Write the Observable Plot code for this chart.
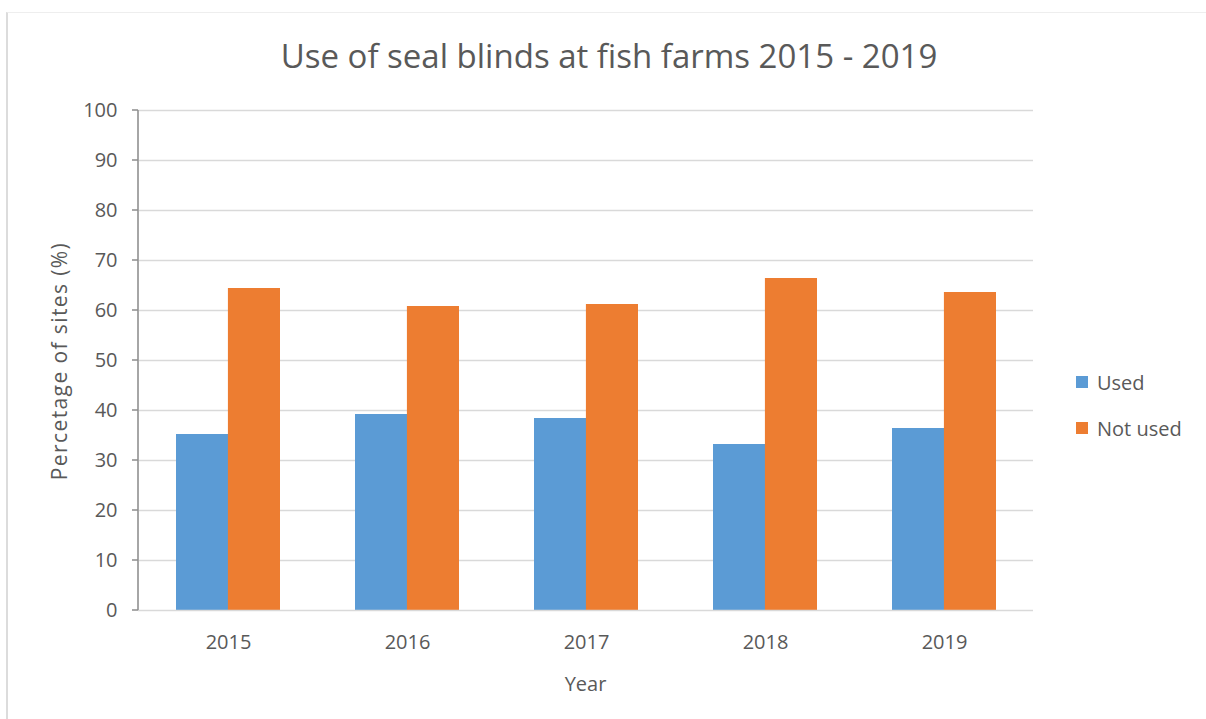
<!DOCTYPE html>
<html>
<head>
<meta charset="utf-8">
<script src="https://cdn.jsdelivr.net/npm/d3@7"></script>
<script src="https://cdn.jsdelivr.net/npm/@observablehq/plot@0.6"></script>
<style>
  html, body { margin: 0; padding: 0; background: #fff; }
  #wrap { position: relative; width: 1206px; height: 719px; overflow: hidden; font-family: "Open Sans", sans-serif; color: #595959; }
  #border { position: absolute; left: 6px; top: 12px; width: 1300px; height: 800px; border-top: 1px solid #eeeeee; border-left: 2px solid #dcdcdc; }
  #title { position: absolute; left: 0; width: 1218px; top: 34px; text-align: center; font-size: 33px; color: #595959; line-height: 44px; }
  #legend { position: absolute; left: 1076px; top: 359px; font-size: 20px; color: #595959; }
  .item { display: flex; align-items: center; height: 46px; }
  .sw { width: 12px; height: 12px; margin-right: 9px; }
  #chart { position: absolute; left: 0; top: 0; }
</style>
</head>
<body>
<div id="wrap">
  <div id="border"></div>
  <div id="chart"></div>
  <div id="title">Use of seal blinds at fish farms 2015 - 2019</div>
  <div id="legend"></div>
</div>
<script>
const years = ["2015", "2016", "2017", "2018", "2019"];
const series = ["Used", "Not used"];
const used = [35.2, 39.2, 38.4, 33.2, 36.4];
const notUsed = [64.4, 60.8, 61.2, 66.4, 63.6];
const colors = ["#5b9bd5", "#ed7d31"];
const yTicks = [0, 10, 20, 30, 40, 50, 60, 70, 80, 90, 100];

const W = 1206, H = 719;
const mL = 138, mR = 173, mT = 110, mB = 109;
const pInner = 0.42, pOuter = 0.21;
const step = (W - mL - mR) / (years.length - pInner + 2 * pOuter);
const half = step * (1 - pInner) / 2;
const font = "'Open Sans', sans-serif";

const usedData = years.map((y, i) => ({year: y, series: series[0], value: used[i]}));
const notData = years.map((y, i) => ({year: y, series: series[1], value: notUsed[i]}));

const chart = Plot.plot({
  width: W, height: H,
  marginLeft: mL, marginRight: mR, marginTop: mT, marginBottom: mB,
  style: {fontFamily: font, fontSize: "20px", color: "#595959", background: "transparent"},
  x: {type: "band", domain: years, paddingInner: pInner, paddingOuter: pOuter, label: null, tickSize: 0, tickPadding: 24},
  y: {domain: [0, 100], ticks: yTicks, label: null, tickSize: 0, tickPadding: 21},
  color: {domain: series, range: colors},
  marks: [
    Plot.ruleY(yTicks.slice(1), {stroke: "#d9d9d9", strokeWidth: 1.3}),
    Plot.barY(usedData, {x: "year", y: "value", fill: "series", insetRight: half, insetLeft: 0}),
    Plot.barY(notData, {x: "year", y: "value", fill: "series", insetLeft: half, insetRight: 0}),
    Plot.ruleY([0], {stroke: "#d9d9d9", strokeWidth: 1.5})
  ]
});
document.getElementById("chart").appendChild(chart);

// left axis line and tick marks, using the plot's own y scale
const ys = chart.scale("y");
const svg = d3.select(chart);
svg.append("line")
  .attr("x1", mL).attr("x2", mL)
  .attr("y1", ys.apply(0)).attr("y2", ys.apply(100))
  .attr("stroke", "#a6a6a6").attr("stroke-width", 2);
svg.append("g").selectAll("line").data(yTicks).join("line")
  .attr("x1", mL - 6).attr("x2", mL)
  .attr("y1", d => ys.apply(d)).attr("y2", d => ys.apply(d))
  .attr("stroke", "#8c8c8c").attr("stroke-width", 1.5);

// axis titles
svg.append("text").text("Year")
  .attr("x", mL + (W - mL - mR) / 2).attr("y", 691)
  .attr("text-anchor", "middle").attr("fill", "#595959")
  .style("font-size", "20px").style("font-family", font);
svg.append("text").text("Percetage of sites (%)")
  .attr("transform", `translate(67, ${ys.apply(49.8)}) rotate(-90)`)
  .attr("text-anchor", "middle").attr("fill", "#595959")
  .style("font-size", "21px").style("letter-spacing", "1.4px").style("font-family", font);

const leg = document.getElementById("legend");
series.forEach((s, i) => {
  const item = document.createElement("div");
  item.className = "item";
  const sw = document.createElement("div");
  sw.className = "sw";
  sw.style.background = colors[i];
  const t = document.createElement("span");
  t.textContent = s;
  item.appendChild(sw); item.appendChild(t);
  leg.appendChild(item);
});
</script>
</body>
</html>
